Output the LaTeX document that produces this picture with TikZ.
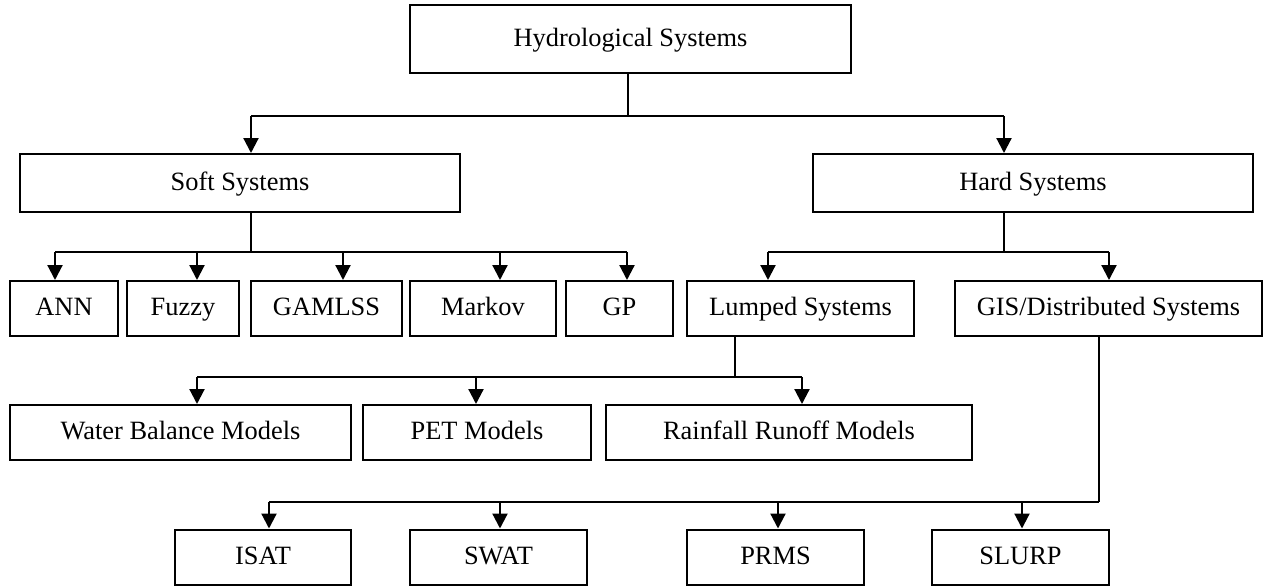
\documentclass[tikz,border=0pt]{standalone}
\usepackage{fontspec}
\setmainfont{Liberation Serif}
\usetikzlibrary{arrows.meta}

\begin{document}
\begin{tikzpicture}[x=1pt,y=-1pt,
  box/.style={draw, line width=2pt, inner sep=0pt, minimum height=55pt,
              text height=17.5pt, text depth=3pt,
              font=\fontsize{26.4}{30}\selectfont},
  link/.style={line width=2.2pt},
  arr/.style={line width=2.2pt, -{Triangle[length=15pt,width=15pt]}}]
\useasboundingbox (0,0) rectangle (1264,586);

% level 0 and 1
\node[box, minimum width=441pt, minimum height=68pt] (hyd) at (630.5,39) {Hydrological Systems};
\node[box, minimum width=440pt, minimum height=58pt] (soft) at (240,183) {Soft Systems};
\node[box, minimum width=440pt, minimum height=58pt] (hard) at (1033,183) {Hard Systems};

% level 2
\node[box, minimum width=108pt] (ann) at (64,308.5) {ANN};
\node[box, minimum width=112pt] (fuzzy) at (183,308.5) {Fuzzy};
\node[box, minimum width=151pt] (gamlss) at (326.5,308.5) {GAMLSS};
\node[box, minimum width=146pt] (markov) at (483,308.5) {Markov};
\node[box, minimum width=107pt] (gp) at (619.5,308.5) {GP};
\node[box, minimum width=227pt] (lumped) at (800.5,308.5) {Lumped Systems};
\node[box, minimum width=307pt] (gis) at (1108.5,308.5) {GIS/Distributed Systems};

% level 3: lumped models
\node[box, minimum width=341pt] (water) at (180.5,432.5) {Water Balance Models};
\node[box, minimum width=228pt] (pet) at (477,432.5) {PET Models};
\node[box, minimum width=366pt] (rain) at (789,432.5) {Rainfall Runoff Models};

% level 4: distributed models
\node[box, minimum width=176pt] (isat) at (263,557) {ISAT};
\node[box, minimum width=177pt] (swat) at (498.5,557) {SWAT};
\node[box, minimum width=177pt] (prms) at (775.5,557) {PRMS};
\node[box, minimum width=177pt] (slurp) at (1020.5,557) {SLURP};

% entry points of the arrows
\coordinate (inSoft) at ([xshift=11pt]soft.north);
\coordinate (inHard) at ([xshift=-29pt]hard.north);
\coordinate (inAnn) at ([xshift=-9pt]ann.north);
\coordinate (inFuzzy) at ([xshift=14pt]fuzzy.north);
\coordinate (inGamlss) at ([xshift=16.5pt]gamlss.north);
\coordinate (inMarkov) at ([xshift=17pt]markov.north);
\coordinate (inGp) at ([xshift=7.5pt]gp.north);
\coordinate (inLumped) at ([xshift=-32.5pt]lumped.north);
\coordinate (inGis) at ([xshift=0.5pt]gis.north);
\coordinate (inWater) at ([xshift=16.5pt]water.north);
\coordinate (inPet) at ([xshift=-1pt]pet.north);
\coordinate (inRain) at ([xshift=13pt]rain.north);
\coordinate (inIsat) at ([xshift=6pt]isat.north);
\coordinate (inSwat) at ([xshift=1.5pt]swat.north);
\coordinate (inPrms) at ([xshift=2.5pt]prms.north);
\coordinate (inSlurp) at ([xshift=1.5pt]slurp.north);

% Hydrological -> Soft / Hard
\draw[link] ([xshift=-2.5pt]hyd.south) -- ++(0,42) coordinate (busA);
\draw[link] (busA -| inSoft) -- (busA -| inHard);
\draw[arr] (busA -| inSoft) -- (inSoft);
\draw[arr] (busA -| inHard) -- (inHard);

% Soft -> soft computing methods
\draw[link] ([xshift=11pt]soft.south) -- ++(0,39) coordinate (busB);
\draw[link] (busB -| inAnn) -- (busB -| inGp);
\foreach \t in {inAnn,inFuzzy,inGamlss,inMarkov,inGp}
  \draw[arr] (busB -| \t) -- (\t);

% Hard -> Lumped / GIS
\draw[link] ([xshift=-29pt]hard.south) -- ++(0,39) coordinate (busC);
\draw[link] (busC -| inLumped) -- (busC -| inGis);
\draw[arr] (busC -| inLumped) -- (inLumped);
\draw[arr] (busC -| inGis) -- (inGis);

% Lumped -> models
\draw[link] ([xshift=-65.5pt]lumped.south) -- ++(0,40) coordinate (busD);
\draw[link] (busD -| inWater) -- (busD -| inRain);
\foreach \t in {inWater,inPet,inRain}
  \draw[arr] (busD -| \t) -- (\t);

% GIS -> distributed models
\draw[link] ([xshift=-9.5pt]gis.south) -- ++(0,165) coordinate (busE);
\draw[link] (busE -| inIsat) -- (busE);
\foreach \t in {inIsat,inSwat,inPrms,inSlurp}
  \draw[arr] (busE -| \t) -- (\t);
\end{tikzpicture}
\end{document}
